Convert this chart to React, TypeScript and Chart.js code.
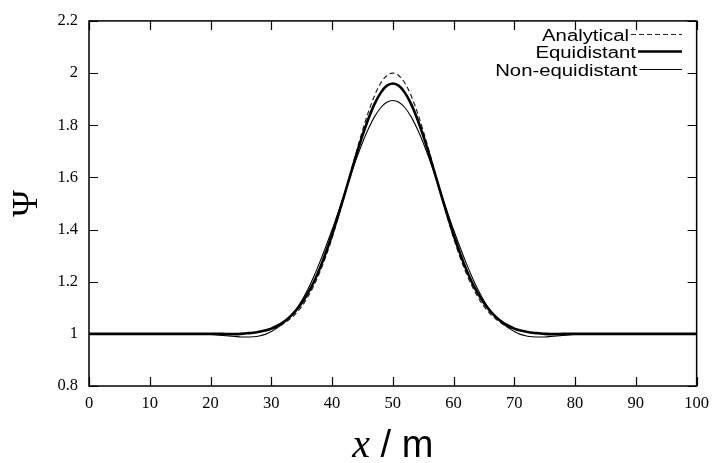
import React, { useEffect, useRef } from "react";
import { Chart, registerables } from "chart.js";

Chart.register(...registerables);

// ---------- data ----------
const X_VALUES = [
  0, 5, 10, 15,
  20, 21, 22, 23, 24, 25, 26, 27, 28, 29,
  30, 31, 32, 33, 34, 35, 36, 37, 38, 39,
  40, 41, 42, 43, 44, 45, 46, 47, 48, 49,
  50,
  51, 52, 53, 54, 55, 56, 57, 58, 59, 60,
  61, 62, 63, 64, 65, 66, 67, 68, 69, 70,
  71, 72, 73, 74, 75, 76, 77, 78, 79, 80,
  85, 90, 95, 100,
];

const ANALYTICAL = [
  1.0, 1.0, 1.0, 1.0,
  1.0, 1.0, 1.0, 1.001, 1.001, 1.002, 1.003, 1.005, 1.008, 1.012,
  1.018, 1.027, 1.039, 1.056, 1.077, 1.105, 1.141, 1.185, 1.237, 1.298,
  1.368, 1.445, 1.527, 1.613, 1.698, 1.779, 1.852, 1.914, 1.961, 1.99,
  2.0,
  1.99, 1.961, 1.914, 1.852, 1.779, 1.698, 1.613, 1.527, 1.445, 1.368,
  1.298, 1.237, 1.185, 1.141, 1.105, 1.077, 1.056, 1.039, 1.027, 1.018,
  1.012, 1.008, 1.005, 1.003, 1.002, 1.001, 1.001, 1.0, 1.0, 1.0,
  1.0, 1.0, 1.0, 1.0,
];

const EQUIDISTANT = [
  1.0, 1.0, 1.0, 1.0,
  1.0, 1.0, 1.0, 0.999, 0.999, 1.0, 1.002, 1.004, 1.008, 1.013,
  1.02, 1.031, 1.045, 1.064, 1.088, 1.118, 1.155, 1.199, 1.252, 1.313,
  1.38, 1.453, 1.53, 1.609, 1.687, 1.76, 1.826, 1.882, 1.924, 1.951,
  1.96,
  1.951, 1.924, 1.882, 1.826, 1.76, 1.687, 1.609, 1.53, 1.453, 1.38,
  1.313, 1.252, 1.199, 1.155, 1.118, 1.088, 1.064, 1.045, 1.031, 1.02,
  1.013, 1.008, 1.004, 1.002, 1.0, 0.999, 0.999, 1.0, 1.0, 1.0,
  1.0, 1.0, 1.0, 1.0,
];

const NON_EQUIDISTANT = [
  1.0, 1.0, 1.0, 0.999,
  0.998, 0.996, 0.994, 0.992, 0.99, 0.988, 0.988, 0.989, 0.992, 0.998,
  1.009, 1.023, 1.041, 1.063, 1.091, 1.127, 1.17, 1.22, 1.276, 1.336,
  1.399, 1.466, 1.535, 1.604, 1.671, 1.733, 1.787, 1.833, 1.867, 1.888,
  1.895,
  1.888, 1.867, 1.833, 1.787, 1.733, 1.671, 1.604, 1.535, 1.466, 1.399,
  1.336, 1.276, 1.22, 1.17, 1.127, 1.091, 1.063, 1.041, 1.023, 1.009,
  0.998, 0.992, 0.989, 0.988, 0.988, 0.99, 0.992, 0.994, 0.996, 0.998,
  0.999, 1.0, 1.0, 1.0,
];

const SERIES_NAMES = ["Analytical", "Equidistant", "Non-equidistant"];
const X_TICKS = [0, 10, 20, 30, 40, 50, 60, 70, 80, 90, 100];
const Y_TICKS = [0.8, 1.0, 1.2, 1.4, 1.6, 1.8, 2.0, 2.2];
const X_TITLE_VAR = "x";
const X_TITLE_UNIT = " / m";
const Y_TITLE = "Ψ";

// ---------- styles ----------
const LINE_STYLES = [
  { color: "#222", width: 1.2, dash: [5, 3] },
  { color: "#000", width: 2.6, dash: [] as number[] },
  { color: "#000", width: 1.1, dash: [] as number[] },
];

const framePlugin = {
  id: "gnuFrame",
  afterDraw(chart: any) {
    const ctx: CanvasRenderingContext2D = chart.ctx;
    const { left, right, top, bottom } = chart.chartArea;
    const xs = chart.scales.x;
    const ys = chart.scales.y;
    ctx.save();
    ctx.strokeStyle = "#000";
    ctx.setLineDash([]);
    ctx.lineWidth = 1.5;
    ctx.strokeRect(left, top, right - left, bottom - top);
    ctx.lineWidth = 1.2;
    ctx.beginPath();
    const tl = 9;
    for (const t of X_TICKS) {
      const px = Math.round(xs.getPixelForValue(t)) + 0.5;
      ctx.moveTo(px, bottom);
      ctx.lineTo(px, bottom - tl);
      ctx.moveTo(px, top);
      ctx.lineTo(px, top + tl);
    }
    for (const t of Y_TICKS) {
      const py = Math.round(ys.getPixelForValue(t)) + 0.5;
      ctx.moveTo(left, py);
      ctx.lineTo(left + tl, py);
      ctx.moveTo(right, py);
      ctx.lineTo(right - tl, py);
    }
    ctx.stroke();

    // legend
    const rowsY = [34.5, 51.5, 69.5];
    const textRight = [629, 636, 637.5];
    const lineEnd = 682;
    ctx.fillStyle = "#000";
    ctx.textBaseline = "alphabetic";
    for (let i = 0; i < SERIES_NAMES.length; i++) {
      ctx.save();
      ctx.translate(textRight[i], rowsY[i] + 6);
      ctx.scale(1.27, 1);
      ctx.font = '16px "Liberation Sans", Arial, sans-serif';
      ctx.textAlign = "right";
      ctx.fillText(SERIES_NAMES[i], 0, 0);
      ctx.restore();
      const st = LINE_STYLES[i];
      ctx.save();
      ctx.strokeStyle = st.color;
      ctx.lineWidth = st.width;
      ctx.setLineDash(st.dash);
      ctx.beginPath();
      ctx.moveTo(textRight[i] + 2, rowsY[i]);
      ctx.lineTo(lineEnd, rowsY[i]);
      ctx.stroke();
      ctx.restore();
    }

    // y title
    ctx.save();
    ctx.translate(28, (top + bottom) / 2);
    ctx.rotate(-Math.PI / 2);
    ctx.font = '36px "Liberation Serif", serif';
    ctx.textAlign = "center";
    ctx.textBaseline = "middle";
    ctx.fillText(Y_TITLE, 0, 0);
    ctx.restore();

    // x title
    ctx.save();
    ctx.textBaseline = "alphabetic";
    ctx.textAlign = "left";
    const fVar = 'italic 40px "Liberation Serif", serif';
    const fUnit = '38px "Liberation Sans", Arial, sans-serif';
    ctx.font = fVar;
    const wVar = ctx.measureText(X_TITLE_VAR).width;
    ctx.font = fUnit;
    const wUnit = ctx.measureText(X_TITLE_UNIT).width;
    const cx = (left + right) / 2;
    const startX = cx - (wVar + wUnit) / 2;
    const baseY = 456.5;
    ctx.font = fVar;
    ctx.fillText(X_TITLE_VAR, startX, baseY);
    ctx.font = fUnit;
    ctx.fillText(X_TITLE_UNIT, startX + wVar, baseY);
    ctx.restore();

    ctx.restore();
  },
};

export default function App() {
  const canvasRef = useRef<HTMLCanvasElement | null>(null);

  useEffect(() => {
    document.body.style.margin = "0";
    const canvas = canvasRef.current;
    if (!canvas) return;
    const seriesData = [ANALYTICAL, EQUIDISTANT, NON_EQUIDISTANT];
    const datasets = seriesData.map((vals, i) => ({
      label: SERIES_NAMES[i],
      data: X_VALUES.map((x, j) => ({ x, y: vals[j] })),
      borderColor: LINE_STYLES[i].color,
      borderWidth: LINE_STYLES[i].width,
      borderDash: LINE_STYLES[i].dash,
      pointRadius: 0,
      fill: false,
      cubicInterpolationMode: "monotone" as const,
      order: 3 - i,
    }));
    const tickFont = { family: '"Liberation Serif", serif', size: 16.5 };
    const chart = new Chart(canvas, {
      type: "line",
      data: { datasets },
      plugins: [framePlugin],
      options: {
        animation: false,
        responsive: false,
        devicePixelRatio: 1,
        layout: { autoPadding: false, padding: { top: 17, right: 14, left: 0, bottom: 0 } },
        plugins: {
          legend: { display: false },
          tooltip: { enabled: false },
        },
        scales: {
          x: {
            type: "linear",
            min: 0,
            max: 100,
            grid: { display: false, drawTicks: false, tickLength: 0 },
            border: { display: false },
            ticks: {
              stepSize: 10,
              color: "#000",
              font: tickFont,
              padding: 8,
              maxRotation: 0,
              autoSkip: false,
            },
            afterFit: (s: any) => {
              s.height = 77;
            },
          },
          y: {
            type: "linear",
            min: 0.8,
            max: 2.2,
            grid: { display: false, drawTicks: false, tickLength: 0 },
            border: { display: false },
            ticks: {
              stepSize: 0.2,
              color: "#000",
              font: tickFont,
              padding: 11,
              autoSkip: false,
              callback: (v: any) => String(Number(Number(v).toFixed(1))),
            },
            afterFit: (s: any) => {
              s.width = 89;
            },
          },
        },
      },
    });
    return () => chart.destroy();
  }, []);

  return (
    <div style={{ width: 717, height: 463, background: "#fff" }}>
      <canvas ref={canvasRef} width={717} height={463} />
    </div>
  );
}
